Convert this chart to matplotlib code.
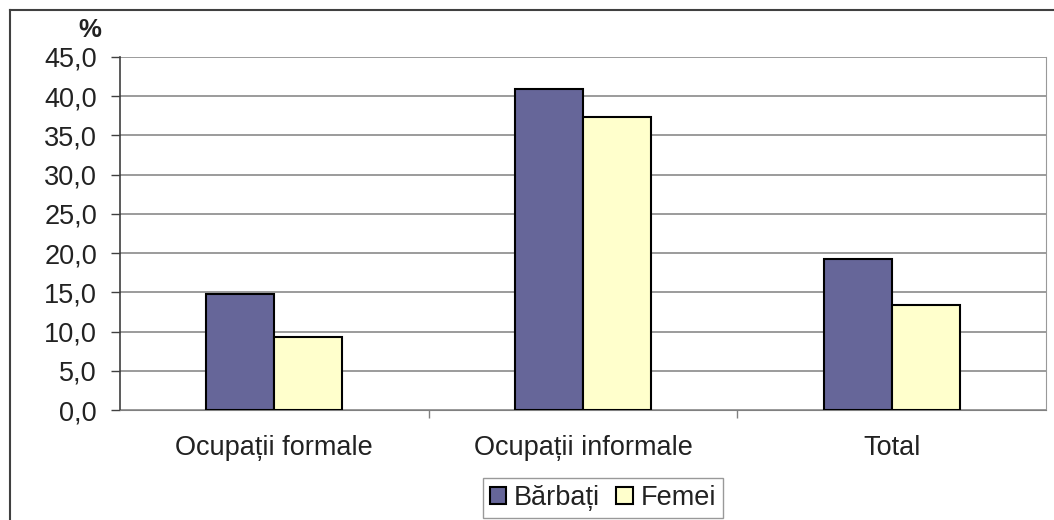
import numpy as np
import matplotlib.pyplot as plt
from matplotlib.lines import Line2D

plt.rcParams['font.family'] = ['Liberation Sans', 'DejaVu Sans']

# Date din grafic
categorii = ['Ocupații formale', 'Ocupații informale', 'Total']
barbati = [14.8, 40.9, 19.3]
femei = [9.3, 37.3, 13.4]
serii = ['Bărbați', 'Femei']
etichete_y = ['0,0', '5,0', '10,0', '15,0', '20,0', '25,0', '30,0', '35,0', '40,0', '45,0']

culoare_barbati = '#666699'
culoare_femei = '#FFFFCC'
marime = 19.5

fig = plt.figure(figsize=(10.54, 5.2), dpi=100)
ax = fig.add_axes([120 / 1054, 1 - 410 / 520, (1046 - 120) / 1054, (410 - 57) / 520])

x = np.arange(len(categorii))
latime = 0.22
ax.bar(x - latime / 2, barbati, latime, color=culoare_barbati, edgecolor='black',
       linewidth=1.5, label=serii[0], zorder=3)
ax.bar(x + latime / 2, femei, latime, color=culoare_femei, edgecolor='black',
       linewidth=1.5, label=serii[1], zorder=3)

ax.set_xlim(-0.5, len(categorii) - 0.5)
ax.set_ylim(0, 45)
ax.set_yticks(np.arange(0, 46, 5))
ax.set_yticklabels(etichete_y, fontsize=marime, color='#222222')
ax.yaxis.grid(True, color='#808080', linewidth=1.1, zorder=0)

ax.set_xticks(x)
ax.set_xticklabels(categorii, fontsize=marime, color='#222222')
ax.tick_params(axis='x', length=0, pad=18)
ax.set_xticks(np.arange(0.5, len(categorii) - 1, 1), minor=True)
ax.tick_params(axis='x', which='minor', length=6, color='#808080', width=1)
ax.tick_params(axis='y', length=6.5, color='#404040', width=1, pad=10)

ax.spines['top'].set_visible(False)
ax.spines['right'].set_color('#999999')
ax.spines['bottom'].set_color('#808080')
ax.spines['left'].set_color('#404040')
ax.spines['left'].set_linewidth(1.2)

fig.text(90 / 1054, 1 - 30 / 520, '%', fontsize=marime - 1, fontweight='bold',
         ha='center', va='center', color='#222222')

# Chenarul graficului
fig.add_artist(Line2D([10 / 1054, 10 / 1054], [0, 1 - 10 / 520], color='#404040', linewidth=1.5))
fig.add_artist(Line2D([10 / 1054, 1], [1 - 10 / 520, 1 - 10 / 520], color='#404040', linewidth=1.5))

leg = fig.legend(loc='center', bbox_to_anchor=(603 / 1054, 1 - 498 / 520), ncol=2,
                 fontsize=marime, frameon=True, fancybox=False, edgecolor='#808080',
                 handlelength=0.6, handleheight=0.6, handletextpad=0.3, columnspacing=0.6,
                 borderpad=0.25, borderaxespad=0)
leg.get_frame().set_linewidth(1)
for t in leg.get_texts():
    t.set_color('#222222')

fig.savefig('out.png', dpi=100)
